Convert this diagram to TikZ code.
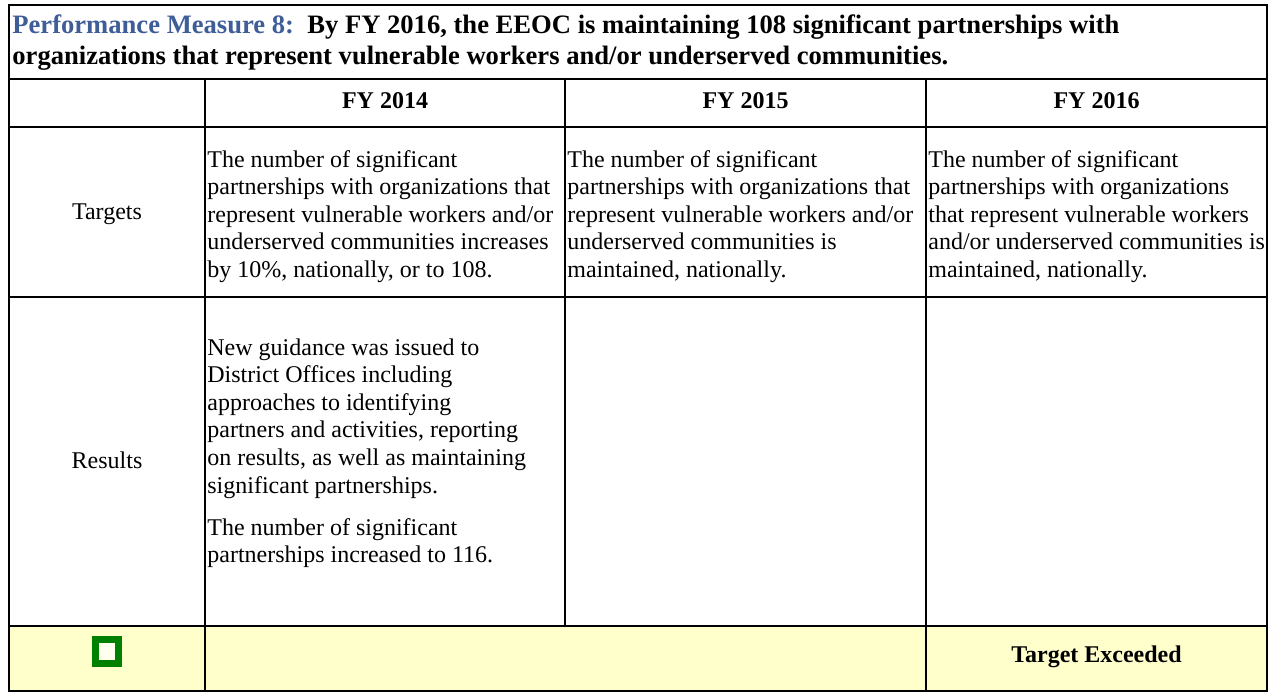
\documentclass[tikz,border=0pt]{standalone}
\usepackage{fontspec}
\setmainfont{Liberation Serif}
\definecolor{pmblue}{RGB}{63,94,152}
\definecolor{rowyellow}{RGB}{255,255,204}
\definecolor{icongreen}{RGB}{0,128,0}
\definecolor{iconfill}{RGB}{255,255,238}
\begin{document}
\begin{tikzpicture}[x=0.5pt,y=-0.5pt,
  body/.style={font=\fontsize{12}{13.8}\selectfont, inner sep=0pt, align=left, anchor=base west},
  rowlabel/.style={font=\fontsize{12}{13.8}\selectfont, inner sep=0pt, anchor=base},
  hdr/.style={font=\fontsize{12}{13.8}\selectfont\bfseries, inner sep=0pt, anchor=base},
  titlestyle/.style={font=\fontsize{13.3}{15.5}\selectfont\bfseries, inner sep=0pt, align=left, anchor=base west},
  outerline/.style={line width=1.1pt},
  thinrule/.style={line width=0.6pt},
  thickrule/.style={line width=1pt},
  colrule/.style={line width=0.85pt}]
\useasboundingbox (0,0) rectangle (1273,692);
% yellow bottom row
\fill[rowyellow] (9,626) rectangle (1267,691);
% grid
\draw[thinrule] (9,79) -- (1267,79);
\draw[thinrule] (9,127) -- (1267,127);
\draw[thickrule] (9,297) -- (1267,297);
\draw[thickrule] (9,626) -- (1267,626);
\draw[colrule] (205,79) -- (205,691);
\draw[colrule] (565,79) -- (565,626);
\draw[colrule] (926,79) -- (926,691);
\draw[outerline] (9,5) rectangle (1267,691);
% title (anchor = baseline of last line)
\node[titlestyle] (title) at (12,64) {\textcolor{pmblue}{Performance Measure 8:}\ \ By FY 2016, the EEOC is maintaining 108 significant partnerships with\\organizations that represent vulnerable workers and/or underserved communities.};
% headers
\node[hdr] (h14) at (385,108) {FY 2014};
\node[hdr] (h15) at (745.5,108) {FY 2015};
\node[hdr] (h16) at (1096.5,108) {FY 2016};
% row labels
\node[rowlabel] (targets) at (107,219) {Targets};
\node[rowlabel] (results) at (107,468) {Results};
% targets (anchor = baseline of last line)
\node[body] (t14) at (207,277.4) {The number of significant\\partnerships with organizations that\\represent vulnerable workers and/or\\underserved communities increases\\by 10\%, nationally, or to 108.};
\node[body] (t15) at (567,277.4) {The number of significant\\partnerships with organizations that\\represent vulnerable workers and/or\\underserved communities is\\maintained, nationally.};
\node[body] (t16) at (928,277.4) {The number of significant\\partnerships with organizations\\that represent vulnerable workers\\and/or underserved communities is\\maintained, nationally.};
% results
\node[body] (r14) at (207,562.6) {New guidance was issued to\\District Offices including\\approaches to identifying\\partners and activities, reporting\\on results, as well as maintaining\\significant partnerships.\\[7.2pt]The number of significant\\partnerships increased to 116.};
% bottom row
\node[draw=icongreen, fill=iconfill, line width=3.5pt, minimum width=11.5pt, minimum height=12pt, inner sep=0pt] (icon) at (107,651.5) {};
\node[hdr] (status) at (1096.5,662) {Target Exceeded};
\end{tikzpicture}
\end{document}
